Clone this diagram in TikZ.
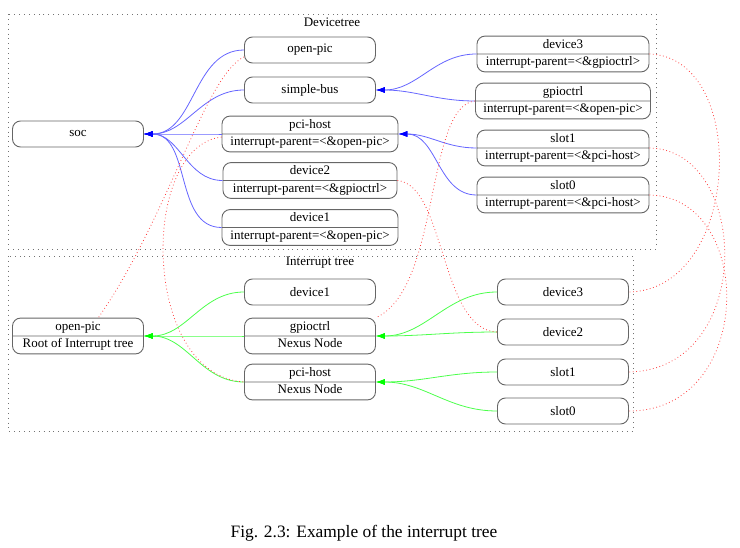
\documentclass[tikz,border=0pt]{standalone}
\usepackage{fontspec}
\setmainfont{Liberation Serif}
\usepackage{tikz}
\usetikzlibrary{arrows.meta,shapes.multipart}

\begin{document}
\begin{tikzpicture}[x=1pt,y=1pt,font=\fontsize{13}{15}\selectfont,
        box/.style={draw=black!60,line width=0.9pt,rounded corners=8pt,minimum width=131pt,minimum height=26pt,inner sep=0pt},
        rec/.style={draw=black!60,line width=0.9pt,rounded corners=8pt,rectangle split,rectangle split parts=2,
            inner xsep=0pt,inner ysep=1pt,font=\fontsize{13}{15}\selectfont\strut},
        cluster/.style={draw=black!55,line width=0.8pt,dash pattern=on 0.9pt off 4pt},
        dtedge/.style={blue!60,line width=0.8pt,-{Latex[blue,length=9pt,width=6pt]}},
        itedge/.style={green!70,line width=0.8pt,-{Latex[green,length=9pt,width=6pt]}},
        irq/.style={red!75,line width=0.8pt,dash pattern=on 0.8pt off 2.6pt}]
    \useasboundingbox (0,0) rectangle (740,-548);
    % clusters
    \draw[cluster] (8,-14) rectangle (656,-249);
    \draw[cluster] (8,-256) rectangle (633,-431);
    \node (dttitle) at (332,-22) {Devicetree};
    \node (ittitle) at (320,-263) {Interrupt tree};
    % devicetree
    \node[box] (soc) at (78,-134) {soc};
    \node[box] (dtpic) at (310,-50) {open-pic};
    \node[box] (dtbus) at (310,-90) {simple-bus};
    \node[rec,minimum width=176pt] (dtpci) at (310,-134) {pci-host\nodepart{two}interrupt-parent=<\&open-pic>};
    \node[rec,minimum width=174pt] (dtdev2) at (310,-180.5) {device2\nodepart{two}interrupt-parent=<\&gpioctrl>};
    \node[rec,minimum width=176pt] (dtdev1) at (310,-227.5) {device1\nodepart{two}interrupt-parent=<\&open-pic>};
    \node[rec,minimum width=172pt] (dtdev3) at (563,-54) {device3\nodepart{two}interrupt-parent=<\&gpioctrl>};
    \node[rec,minimum width=175pt] (dtgpio) at (563,-101) {gpioctrl\nodepart{two}interrupt-parent=<\&open-pic>};
    \node[rec,minimum width=172pt] (dtslot1) at (563,-148) {slot1\nodepart{two}interrupt-parent=<\&pci-host>};
    \node[rec,minimum width=172pt] (dtslot0) at (563,-195) {slot0\nodepart{two}interrupt-parent=<\&pci-host>};
    % interrupt tree
    \node[rec,minimum width=131pt] (itpic) at (78,-336) {open-pic\nodepart{two}Root of Interrupt tree};
    \node[box] (itdev1) at (310,-292) {device1};
    \node[rec,minimum width=131pt] (itgpio) at (310,-336) {gpioctrl\nodepart{two}Nexus Node};
    \node[rec,minimum width=131pt] (itpci) at (310,-382) {pci-host\nodepart{two}Nexus Node};
    \node[box] (itdev3) at (563,-292) {device3};
    \node[box] (itdev2) at (563,-332) {device2};
    \node[box] (itslot1) at (563,-372) {slot1};
    \node[box] (itslot0) at (563,-411) {slot0};

    \foreach \child in {dtpic,dtbus,dtpci,dtdev2,dtdev1}
        \draw[dtedge] (\child.west) to[out=180,in=0] (soc.east);
    \foreach \child in {dtdev3,dtgpio}
        \draw[dtedge] (\child.west) to[out=180,in=0] (dtbus.east);
    \foreach \child in {dtslot1,dtslot0}
        \draw[dtedge] (\child.west) to[out=180,in=0] (dtpci.east);

    \foreach \child in {itdev1,itgpio,itpci}
        \draw[itedge] (\child.west) to[out=180,in=0] (itpic.east);
    \foreach \child in {itdev3,itdev2}
        \draw[itedge] (\child.west) to[out=180,in=0] (itgpio.east);
    \foreach \child in {itslot1,itslot0}
        \draw[itedge] (\child.west) to[out=180,in=0] (itpci.east);

    % interrupt-parent links
    \draw[irq] (dtpic.186) .. controls +(205:43) and +(55:120) .. (itpic.42);
    \draw[irq] (dtpci.182) .. controls +(186:82) and +(176:104) .. (itpci.west);
    \draw[irq] (dtgpio.west) .. controls +(185:50) and +(24:71) .. (itgpio.north east);
    \draw[irq] (dtdev2.east) .. controls +(355:48) and +(178:57) .. (itdev2.west);
    \draw[irq] (dtdev3.east) .. controls +(358:101) and +(1:112) .. (itdev3.east);
    \draw[irq] (dtslot1.east) .. controls +(359:101) and +(1:127) .. (itslot1.east);
    \draw[irq] (dtslot0.east) .. controls +(359:106) and +(0:127) .. (itslot0.east);

    \node[font=\fontsize{17.4}{20}\selectfont] (caption) at (364,-533) {Fig. 2.3: Example of the interrupt tree};
\end{tikzpicture}
\end{document}
